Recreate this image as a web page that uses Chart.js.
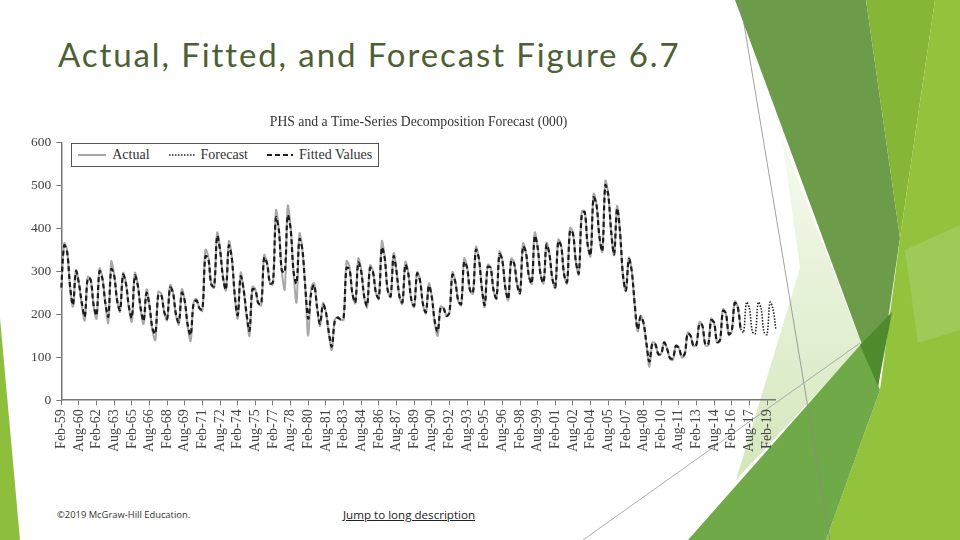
<!DOCTYPE html>
<html lang="en">
<head>
    <meta charset="UTF-8">
    <title>Actual, Fitted, and Forecast Figure 6.7</title>

    <script src="https://cdn.jsdelivr.net/npm/chart.js"></script>
    <style>
        body { margin: 0; background: #fff; }
        #slide { position: relative; width: 960px; height: 540px; overflow: hidden; background: #fff; }
        #deco { position: absolute; left: 0; top: 0; }
        #slideTitle {
            position: absolute; left: 58px; top: 34px;
            font-family: Lato, "Open Sans", sans-serif; font-size: 33px; color: #4c6133;
            letter-spacing: 1.9px; white-space: nowrap;
        }
        #chartBox { position: absolute; left: 26px; top: 106px; width: 762px; height: 356px; }
        #legend {
            position: absolute; border: 1px solid #555; background: #fff;
            font-family: "Liberation Serif", serif; font-size: 14px; color: #333;
            padding: 3px 6px; white-space: nowrap; display: flex; align-items: center;
        }
        #legend span.item { display: inline-flex; align-items: center; margin-right: 19px; }
        #legend span.item:last-child { margin-right: 0; }
        #legend svg { margin-right: 6px; }
        #copy { position: absolute; left: 57px; top: 508px; font-family: "Open Sans", sans-serif; font-size: 9.4px; color: #333; }
        #jump { position: absolute; left: 343px; top: 507px; font-family: "Open Sans", sans-serif; font-size: 11.6px; color: #222; text-decoration: underline; }
    </style>
</head>
<body>
<div id="slide">
    <svg id="deco" width="960" height="540">
        <defs>
            <linearGradient id="pale" x1="0" y1="0" x2="0" y2="1">
                <stop offset="0" stop-color="#f6faf0"/>
                <stop offset="1" stop-color="#d3e7ba"/>
            </linearGradient>
        </defs>
        <polygon points="0,318 20,540 0,540" fill="#8dbf3c"/>
        <polygon points="782,138 862,345 736,480 800,268" fill="url(#pale)"/>
        <polygon points="735,0 866,0 900,238 878,388" fill="#6c9c4a"/>
        <polygon points="866,0 935,0 900,238" fill="#86b635"/>
        <polygon points="935,0 960,0 960,540 826,540 880,390 900,238" fill="#93c23c"/>
        <polygon points="905,250 960,225 960,330 918,343" fill="#a0ca57"/>
        <polygon points="688,540 862,343 880,390 826,540" fill="#70aa48"/>
        <polygon points="860,345 892,312 878,386" fill="#4f8b2c"/>
        <line x1="740" y1="0" x2="830" y2="540" stroke="#8a8a8a" stroke-width="0.8"/>
        <line x1="583" y1="540" x2="860" y2="343" stroke="#9a9a9a" stroke-width="0.8"/>
    </svg>
    <div id="slideTitle">Actual, Fitted, and Forecast Figure 6.7</div>
    <div id="chartBox">
        <canvas id="phsChart"></canvas>
        <div id="legend"></div>
    </div>
    <div id="copy">©2019 McGraw-Hill Education.</div>
    <div id="jump">Jump to long description</div>
</div>

<script>
    // quarterly PHS (000), one row per year: Feb, May, Aug, Nov
    const firstYear = 1959;
    const lastYear = 2019;
    const quarterMonths = ['Feb', 'May', 'Aug', 'Nov'];

    const actual = [
        255, 365, 348, 262,   // 1959
        218, 303, 272, 222,
        186, 287, 282, 220,
        190, 306, 285, 225,
        180, 323, 292, 232,
        206, 296, 272, 215,
        183, 296, 270, 212,
        178, 258, 218, 162,
        140, 252, 248, 205,
        186, 268, 252, 198,
        176, 258, 232, 172,
        138, 228, 236, 214,   // 1970
        208, 350, 335, 270,
        262, 390, 352, 288,
        256, 370, 332, 242,
        190, 297, 258, 198,
        150, 264, 258, 225,
        221, 338, 318, 272,
        270, 442, 398, 300,
        258, 452, 402, 296,
        228, 388, 350, 258,
        150, 262, 272, 215,   // 1980
        172, 226, 205, 152,
        117, 186, 194, 188,
        187, 324, 310, 248,
        226, 330, 302, 240,
        216, 314, 300, 250,
        236, 370, 332, 256,
        240, 342, 302, 240,
        224, 322, 296, 234,
        217, 298, 280, 222,
        202, 272, 242, 180,   // 1990
        150, 218, 214, 196,
        202, 298, 276, 230,
        221, 330, 310, 256,
        248, 357, 330, 262,
        217, 315, 310, 256,
        236, 346, 326, 262,
        233, 330, 320, 270,
        248, 365, 345, 290,
        271, 390, 356, 292,
        272, 366, 340, 282,   // 2000
        261, 374, 360, 292,
        272, 401, 390, 322,
        292, 440, 440, 362,
        335, 480, 456, 380,
        346, 510, 480, 392,
        338, 452, 392, 290,
        254, 332, 300, 222,
        160, 197, 178, 128,
        78, 134, 132, 106,
        108, 136, 120, 96,    // 2010
        94, 128, 122, 100,
        106, 157, 150, 126,
        130, 182, 174, 128,
        128, 190, 180, 134,
        138, 212, 202, 152,
        160, 230, 218, 166    // 2016
    ];

    const fitted = [
        262, 360, 345, 265,   // 1959
        222, 300, 272, 226,
        195, 284, 280, 222,
        198, 300, 282, 226,
        195, 305, 290, 232,
        210, 292, 272, 218,
        192, 290, 268, 214,
        185, 250, 220, 168,
        155, 245, 245, 206,
        190, 262, 250, 200,
        182, 250, 230, 175,
        152, 225, 232, 214,   // 1970
        212, 335, 330, 270,
        265, 382, 350, 285,
        258, 360, 330, 245,
        198, 288, 258, 202,
        162, 258, 256, 226,
        224, 332, 318, 272,
        275, 425, 395, 302,
        298, 430, 398, 300,
        272, 375, 350, 262,
        190, 250, 268, 216,   // 1980
        178, 222, 205, 158,
        125, 184, 192, 188,
        192, 308, 305, 248,
        228, 320, 300, 242,
        220, 308, 298, 250,
        238, 355, 330, 256,
        242, 335, 300, 242,
        228, 315, 295, 236,
        220, 295, 278, 224,
        205, 266, 240, 184,   // 1990
        160, 215, 214, 196,
        205, 292, 275, 232,
        224, 322, 308, 256,
        250, 350, 330, 262,
        222, 310, 308, 256,
        238, 340, 325, 262,
        236, 325, 318, 270,
        250, 358, 344, 290,
        272, 382, 355, 292,
        274, 362, 340, 282,   // 2000
        264, 370, 358, 292,
        275, 395, 388, 322,
        296, 432, 438, 362,
        338, 472, 455, 380,
        348, 500, 478, 392,
        340, 446, 392, 292,
        256, 328, 300, 224,
        165, 195, 180, 132,
        90, 132, 130, 108,
        108, 134, 120, 98,    // 2010
        98, 126, 122, 102,
        108, 155, 150, 126,
        130, 178, 174, 130,
        130, 186, 180, 136,
        140, 208, 202, 154,
        162, 226, 218, 166    // 2016
    ];

    const forecast = [
        158, 228, 214, 160,   // 2017
        155, 228, 212, 158,
        153, 228, 213, 165    // 2019
    ];

    const yTicks = [0, 100, 200, 300, 400, 500, 600];

    const labels = [];
    for (let y = firstYear; y <= lastYear; y++) {
        quarterMonths.forEach(m => labels.push(m + '-' + String(y).slice(2)));
    }

    // forecast line starts at the last actual quarter
    const forecastData = labels.map(() => null);
    forecastData[actual.length - 1] = actual[actual.length - 1];
    forecast.forEach((v, i) => forecastData[actual.length + i] = v);

    const serif = "'Liberation Serif', 'Times New Roman', serif";

    const phsChart = new Chart(document.getElementById('phsChart'), {
        type: 'line',
        data: {
            labels: labels,
            datasets: [
                {label: 'Actual', data: actual, borderColor: '#a8a8a8', borderWidth: 2, order: 3},
                {label: 'Forecast', data: forecastData, borderColor: '#222', borderWidth: 1.6, borderDash: [1.5, 1.5], order: 2},
                {label: 'Fitted Values', data: fitted, borderColor: '#1c1c1c', borderWidth: 2.2, borderDash: [5, 3], order: 1}
            ]
        },
        options: {
            responsive: true,
            maintainAspectRatio: false,
            animation: false,
            elements: {point: {radius: 0}, line: {tension: 0.35}},
            layout: {padding: {left: 0, right: 6, top: 0, bottom: 6}},
            plugins: {
                legend: {display: false},
                tooltip: {enabled: false},
                title: {
                    display: true,
                    fullSize: false,
                    text: 'PHS and a Time-Series Decomposition Forecast (000)',
                    font: {family: serif, size: 13.7, weight: 'normal'},
                    color: '#333',
                    padding: {top: 8, bottom: 12}
                }
            },
            scales: {
                x: {
                    offset: false,
                    grid: {drawOnChartArea: false, color: '#777', tickLength: 5},
                    border: {color: '#777', width: 1.5},
                    ticks: {
                        autoSkip: false, maxRotation: 90, minRotation: 90, padding: 4,
                        font: {family: serif, size: 14}, color: '#444',
                        callback: function (v, i) { return i % 6 === 0 ? this.getLabelForValue(v) : null; }
                    }
                },
                y: {
                    min: yTicks[0], max: yTicks[yTicks.length - 1],
                    afterBuildTicks: axis => { axis.ticks = yTicks.map(v => ({value: v})); },
                    grid: {drawOnChartArea: false, color: '#777', tickLength: 5},
                    border: {color: '#777', width: 1.5},
                    ticks: {font: {family: serif, size: 13.5}, color: '#444', padding: 5}
                }
            }
        }
    });

    // legend box inside the plot, top left
    const legendBox = document.getElementById('legend');
    phsChart.data.datasets.forEach(ds => {
        const dash = ds.borderDash ? ds.borderDash.join(',') : 'none';
        const w = ds.label === 'Actual' ? 28 : 26;
        legendBox.insertAdjacentHTML('beforeend',
            '<span class="item"><svg width="' + w + '" height="8"><line x1="0" y1="4" x2="' + w + '" y2="4" stroke="' +
            ds.borderColor + '" stroke-width="' + ds.borderWidth + '" stroke-dasharray="' + dash + '"/></svg>' + ds.label + '</span>');
    });
    const area = phsChart.chartArea;
    legendBox.style.left = (area.left + 10) + 'px';
    legendBox.style.top = (area.top + 1) + 'px';
</script>
</body>
</html>
